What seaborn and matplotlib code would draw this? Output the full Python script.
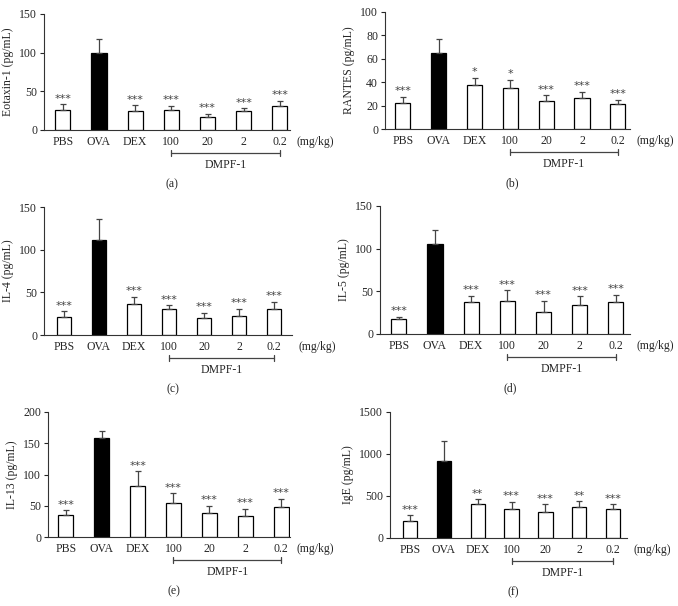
import numpy as np
import pandas as pd
import matplotlib
matplotlib.use("Agg")
import matplotlib.pyplot as plt
import seaborn as sns

sns.set_style("ticks")
plt.rcParams['font.family'] = ['Liberation Serif', 'DejaVu Serif']

groups = ["PBS", "OVA", "DEX", "100", "20", "2", "0.2"]

eotaxin = [26, 99, 25, 26, 17, 25, 31]
eotaxin_err = [7, 19, 7, 5, 4, 3, 7]
eotaxin_sig = ["***", "", "***", "***", "***", "***", "***"]

rantes = [22.5, 65, 38, 35, 24, 26.5, 21]
rantes_err = [5, 12, 6, 7, 5, 5.5, 4]
rantes_sig = ["***", "", "*", "*", "***", "***", "***"]

il4 = [21, 111, 36, 30, 20, 22, 30]
il4_err = [7, 25, 9, 5, 6, 9, 9]
il4_sig = ["***", "", "***", "***", "***", "***", "***"]

il5 = [17, 106, 37, 39, 26, 34, 37]
il5_err = [3, 16, 8, 12, 13, 10, 9]
il5_sig = ["***", "", "***", "***", "***", "***", "***"]

il13 = [36, 158, 81, 54, 38, 34, 48]
il13_err = [7, 12, 24, 16, 12, 11, 13]
il13_sig = ["***", "", "***", "***", "***", "***", "***"]

ige = [200, 920, 400, 340, 315, 375, 345]
ige_err = [70, 240, 60, 90, 85, 60, 55]
ige_sig = ["***", "", "**", "***", "***", "**", "***"]

panels = [
    dict(vals=eotaxin, err=eotaxin_err, sig=eotaxin_sig, ylabel="Eotaxin-1 (pg/mL)", ymax=150, step=50,
         letter="(a)", box=(44, 290, 14, 130), xlim=(-0.52, 6.28)),
    dict(vals=rantes, err=rantes_err, sig=rantes_sig, ylabel="RANTES (pg/mL)", ymax=100, step=20,
         letter="(b)", box=(385, 630, 12, 129), xlim=(-0.5, 6.34)),
    dict(vals=il4, err=il4_err, sig=il4_sig, ylabel="IL-4 (pg/mL)", ymax=150, step=50,
         letter="(c)", box=(44, 292, 207, 335), xlim=(-0.57, 6.51)),
    dict(vals=il5, err=il5_err, sig=il5_sig, ylabel="IL-5 (pg/mL)", ymax=150, step=50,
         letter="(d)", box=(380, 630, 206, 334), xlim=(-0.52, 6.39)),
    dict(vals=il13, err=il13_err, sig=il13_sig, ylabel="IL-13 (pg/mL)", ymax=200, step=50,
         letter="(e)", box=(48, 290, 412, 537), xlim=(-0.5, 6.25)),
    dict(vals=ige, err=ige_err, sig=ige_sig, ylabel="IgE (pg/mL)", ymax=1500, step=500,
         letter="(f)", box=(390, 627, 412, 538), xlim=(-0.59, 6.41)),
]

W, H = 678, 606
fig = plt.figure(figsize=(W / 100, H / 100), dpi=100)
fs = 8.5
colors = ["white", "black", "white", "white", "white", "white", "white"]

for p in panels:
    l, r, t, b = p["box"]
    ax = fig.add_axes([l / W, 1 - b / H, (r - l) / W, (b - t) / H])
    df = pd.DataFrame({"group": groups, "value": p["vals"]})
    sns.barplot(data=df, x="group", y="value", hue="group", palette=colors, legend=False,
                edgecolor="black", linewidth=0.9, width=0.42, ax=ax, errorbar=None)
    x = np.arange(len(groups))
    ax.errorbar(x, p["vals"], yerr=[np.zeros(len(groups)), p["err"]], fmt="none",
                ecolor="#444444", elinewidth=0.9, capsize=2.5, capthick=0.9)
    ymax = p["ymax"]
    for xi, v, e, s in zip(x, p["vals"], p["err"], p["sig"]):
        if s:
            ax.annotate(s, (xi, v + e), xytext=(0, 4.0), textcoords="offset points",
                        ha="center", va="center", fontsize=8, color="#444444",
                        family="DejaVu Sans")
    ax.set_ylim(0, ymax)
    ax.set_yticks(np.arange(0, ymax + 1, p["step"]))
    ax.set_xlim(*p["xlim"])
    ax.set_xlabel("")
    ax.set_ylabel(p["ylabel"], fontsize=fs, labelpad=4)
    ax.tick_params(axis="y", labelsize=fs, length=3, width=0.8, pad=2)
    ax.tick_params(axis="x", labelsize=fs, length=0, pad=4)
    for sp in ["top", "right"]:
        ax.spines[sp].set_visible(False)
    for sp in ["left", "bottom"]:
        ax.spines[sp].set_linewidth(0.8)
        ax.spines[sp].set_color("#333333")
    # units label
    ax.annotate("(mg/kg)", (1.0, 0), xycoords="axes fraction", xytext=(5, -4),
                textcoords="offset points", ha="left", va="top", fontsize=fs)
    # DMPF-1 bracket
    trans = ax.get_xaxis_transform()
    yb = -23 / (b - t)
    ax.plot([3, 6], [yb, yb], transform=trans, color="#444444", lw=0.9, clip_on=False)
    for xx in (3, 6):
        ax.plot([xx, xx], [yb - 3 / (b - t), yb + 3 / (b - t)], transform=trans,
                color="#444444", lw=0.9, clip_on=False)
    ax.text(4.5, -29 / (b - t), "DMPF-1", transform=trans, ha="center", va="top", fontsize=fs)
    ax.text(0.52, -48 / (b - t), p["letter"], transform=ax.transAxes, ha="center", va="top",
            fontsize=fs)

fig.savefig("out.png", dpi=100, facecolor="white")
